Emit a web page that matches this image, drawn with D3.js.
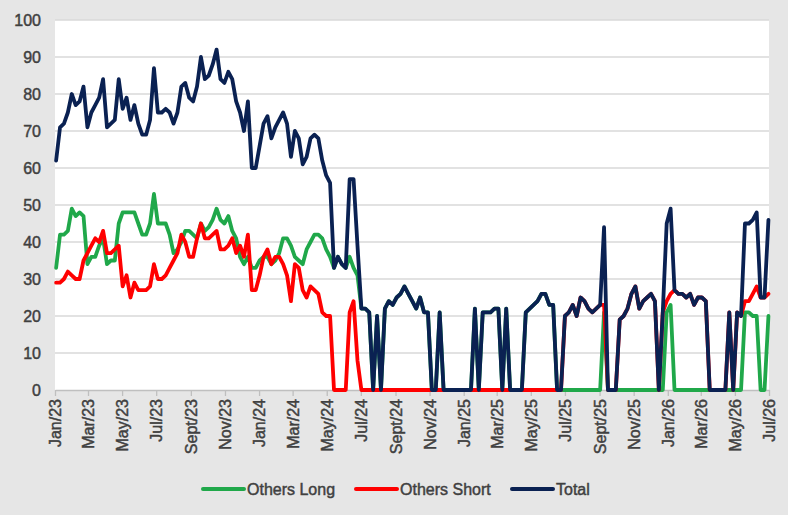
<!DOCTYPE html>
<html>
<head>
<meta charset="utf-8">
<script src="https://cdn.jsdelivr.net/npm/d3@7"></script>
<style>
  html, body { margin: 0; padding: 0; background: #e6e6e6; }
  svg { display: block; }
  text { font-family: "Liberation Sans", Arial, sans-serif; fill: #404040; }
</style>
</head>
<body>
<svg id="chart" width="788" height="515"></svg>
<script>
// ---- DATA (weekly observations starting 2023-01-03) ----
const startDate = "2023-01-03";

const total = [
  62,71,72,75,80,77,78,82,71,75,
  77,79,84,71,72,73,84,76,79,73,
  77,72,69,69,73,87,75,75,76,75,
  72,75,82,83,79,78,82,90,84,85,
  88,92,84,83,86,84,78,75,70,78,
  60,60,66,72,74,68,71,73,75,72,
  63,70,68,61,63,68,69,68,62,58,
  56,33,36,34,33,57,57,39,22,22,
  21,0,20,0,22,24,23,25,26,28,
  26,24,22,25,21,21,0,0,21,0,
  0,0,0,0,0,0,0,22,0,21,
  21,21,22,22,0,22,0,0,0,0,
  21,22,23,24,26,26,23,23,0,0,
  20,21,23,20,25,24,22,21,22,23,
  44,0,0,0,19,20,22,26,28,22,
  24,25,26,24,0,21,45,49,27,26,
  26,25,26,23,25,25,24,0,0,0,
  0,0,21,0,21,20,45,45,46,48,
  25,25,46
];

const othersLong = [
  33,42,42,43,49,47,48,47,34,36,
  36,39,41,34,35,35,45,48,48,48,
  48,45,42,42,45,53,45,45,45,42,
  37,38,40,43,43,42,41,45,43,44,
  46,49,46,45,47,43,41,36,34,36,
  33,33,35,36,36,34,35,37,41,41,
  39,36,35,34,38,40,42,42,41,38,
  36,33,36,34,33,36,33,31,22,22,
  21,0,20,0,22,24,23,25,26,28,
  26,24,22,25,21,21,0,0,21,0,
  0,0,0,0,0,0,0,22,0,21,
  21,21,22,22,0,22,0,0,0,0,
  21,22,23,24,26,26,23,23,0,0,
  0,0,0,0,0,0,0,0,0,0,
  21,0,0,0,0,0,0,0,0,0,
  0,0,0,0,0,0,21,23,0,0,
  0,0,0,0,0,0,0,0,0,0,
  0,0,0,0,0,0,21,21,20,20,
  0,0,20
];

const othersShort = [
  29,29,30,32,31,30,30,35,37,39,
  41,40,43,37,37,38,39,28,31,25,
  29,27,27,27,28,34,30,30,31,33,
  35,37,42,40,36,36,41,45,41,41,
  42,43,38,38,39,41,37,39,36,42,
  27,27,31,36,38,34,36,36,34,31,
  24,34,33,27,25,28,27,26,21,20,
  20,0,0,0,0,21,24,8,0,0,
  0,0,0,0,0,0,0,0,0,0,
  0,0,0,0,0,0,0,0,0,0,
  0,0,0,0,0,0,0,0,0,0,
  0,0,0,0,0,0,0,0,0,0,
  0,0,0,0,0,0,0,0,0,0,
  20,21,23,20,25,24,22,21,22,23,
  23,0,0,0,19,20,22,26,28,22,
  24,25,26,24,0,21,24,26,27,26,
  26,25,26,23,25,25,24,0,0,0,
  0,0,21,0,21,20,24,24,26,28,
  25,25,26
];

const tickDates = ["2023-01-01","2023-03-01","2023-05-01","2023-07-01","2023-09-01","2023-11-01",
                   "2024-01-01","2024-03-01","2024-05-01","2024-07-01","2024-09-01","2024-11-01",
                   "2025-01-01","2025-03-01","2025-05-01","2025-07-01","2025-09-01","2025-11-01",
                   "2026-01-01","2026-03-01","2026-05-01","2026-07-01"];
const tickLabels = ["Jan/23","Mar/23","May/23","Jul/23","Sept/23","Nov/23",
                    "Jan/24","Mar/24","May/24","Jul/24","Sept/24","Nov/24",
                    "Jan/25","Mar/25","May/25","Jul/25","Sept/25","Nov/25",
                    "Jan/26","Mar/26","May/26","Jul/26"];
const yTicks = [0,10,20,30,40,50,60,70,80,90,100];

const seriesNames = ["Others Long","Others Short","Total"];
const seriesColors = ["#20a84a","#ff0000","#0a2152"];

// ---- CHART ----
const parse = d3.utcParse("%Y-%m-%d");
const start = parse(startDate);
const dates = total.map((_, i) => d3.utcDay.offset(start, 7 * i));

const svg = d3.select("#chart");
const plot = { left: 55, right: 769, top: 20, bottom: 390 };

const x = d3.scaleUtc()
  .domain([parse(tickDates[0]), parse(tickDates[tickDates.length - 1])])
  .range([plot.left, plot.right]);
const y = d3.scaleLinear().domain([0, 100]).range([plot.bottom, plot.top]);

// plot background
svg.append("rect")
  .attr("x", plot.left).attr("y", plot.top)
  .attr("width", plot.right - plot.left).attr("height", plot.bottom - plot.top)
  .attr("fill", "#ffffff");

// gridlines
svg.append("g")
  .selectAll("line")
  .data(yTicks.filter(d => d > 0))
  .join("line")
  .attr("x1", plot.left).attr("x2", plot.right)
  .attr("y1", d => y(d)).attr("y2", d => y(d))
  .attr("stroke", "#d9d9d9").attr("stroke-width", 1.3);

// y axis labels
const yAxis = d3.axisLeft(y).tickValues(yTicks).tickSize(0).tickPadding(14);
const gy = svg.append("g").attr("transform", `translate(${plot.left},0)`).call(yAxis);
gy.select(".domain").remove();
gy.selectAll("text")
  .style("font-family", '"Liberation Sans", Arial, sans-serif')
  .style("font-size", "16px").style("fill", "#404040")
  .style("stroke", "#404040").style("stroke-width", "0.45px");

// x axis
const xAxis = d3.axisBottom(x)
  .tickValues(tickDates.map(parse))
  .tickFormat((d, i) => tickLabels[i])
  .tickSize(6).tickSizeOuter(0).tickPadding(4);
const gx = svg.append("g").attr("transform", `translate(0,${plot.bottom})`).call(xAxis);
gx.select(".domain").attr("stroke", "#bfbfbf").attr("stroke-width", 1.3);
gx.selectAll(".tick line").attr("stroke", "#bfbfbf").attr("stroke-width", 1.3);
gx.selectAll("text")
  .style("font-family", '"Liberation Sans", Arial, sans-serif')
  .style("font-size", "16px").style("fill", "#404040")
  .style("stroke", "#404040").style("stroke-width", "0.45px")
  .attr("text-anchor", "end")
  .attr("transform", "rotate(-90)")
  .attr("x", -9).attr("y", 0).attr("dy", "0.35em");

// lines
const seriesData = [othersLong, othersShort, total];
const line = d3.line().x((d, i) => x(dates[i])).y(d => y(d));
svg.append("g")
  .selectAll("path")
  .data(seriesData)
  .join("path")
  .attr("d", d => line(d))
  .attr("fill", "none")
  .attr("stroke", (d, i) => seriesColors[i])
  .attr("stroke-width", 3.8)
  .attr("stroke-linejoin", "round")
  .attr("stroke-linecap", "round");

// legend
const legendX = [203, 356, 512];
const lg = svg.append("g");
seriesNames.forEach((name, i) => {
  lg.append("line")
    .attr("x1", legendX[i]).attr("x2", legendX[i] + 41)
    .attr("y1", 489).attr("y2", 489)
    .attr("stroke", seriesColors[i]).attr("stroke-width", 4)
    .attr("stroke-linecap", "round");
  lg.append("text")
    .attr("x", legendX[i] + 44).attr("y", 489).attr("dy", "0.36em")
    .style("font-size", "16px")
    .style("stroke", "#404040").style("stroke-width", "0.45px")
    .text(name);
});
</script>
</body>
</html>
